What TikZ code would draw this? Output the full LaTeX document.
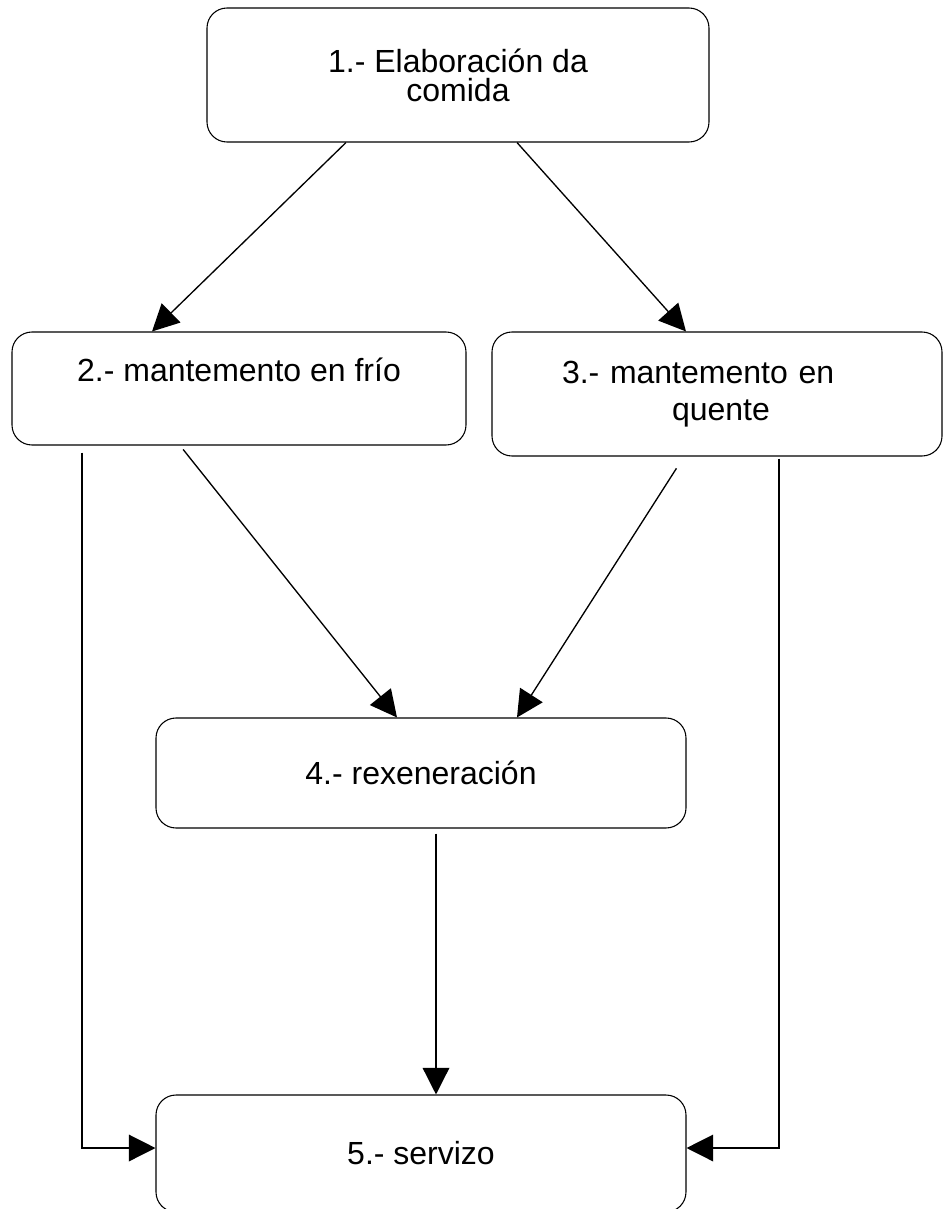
\documentclass[tikz,border=0pt]{standalone}
\usepackage{fontspec}
\setmainfont{Liberation Sans}
\usepackage{tikz}
\usetikzlibrary{arrows.meta}

\begin{document}
\begin{tikzpicture}[x=0.75pt,y=0.75pt,yscale=-1,xscale=1,
    rrect/.style={draw, line width=0.8pt, rounded corners=15pt, inner sep=0pt, align=center, font=\fontsize{24}{27.75}\selectfont},
    conn/.style={line width=1pt, -{Triangle[length=20pt,width=20pt]}}]
    \useasboundingbox (0,0) rectangle (943,1209);

    %Shape: Rounded Rect [id:b1]
    \node[rrect, minimum width=376.5pt, minimum height=100.5pt, font=\fontsize{24}{21.75}\selectfont] (b1) at (458,75) {1.- Elaboración da\\comida};
    %Shape: Rounded Rect [id:b2]
    \node[rrect, minimum width=340.5pt, minimum height=84.75pt] (b2) at (239,388.5) {2.- mantemento en frío\\\mbox{}};
    %Shape: Rounded Rect [id:b3]
    \node[rrect, minimum width=337.5pt, text width=337.5pt, minimum height=93pt, align=left] (b3) at (717,394) {\hspace*{52.5pt}3.- mantemento en\\\hspace*{135pt}quente};
    %Shape: Rounded Rect [id:b4]
    \node[rrect, minimum width=397.5pt, minimum height=82.5pt] (b4) at (421,773) {4.- rexeneración};
    %Shape: Rounded Rect [id:b5]
    \node[rrect, minimum width=397.5pt, minimum height=87.75pt] (b5) at (421,1153.5) {5.- servizo};

    %Straight Lines [id:a12]
    \draw[conn] (b1.south -| 346,0) -- (b2.north -| 152,0);
    %Straight Lines [id:a13]
    \draw[conn] (b1.south -| 517,0) -- (b3.north -| 686,0);
    %Straight Lines [id:a24]
    \draw[conn, shorten <=3.75pt] (b2.south -| 180,0) -- (b4.north -| 397,0);
    %Straight Lines [id:a34]
    \draw[conn, shorten <=10.5pt] (b3.south -| 684,0) -- (b4.north -| 517,0);
    %Straight Lines [id:a45]
    \draw[conn, shorten <=3.75pt] (b4.south -| 436,0) -- (b5.north -| 436,0);
    %Shape: Elbow [id:a25]
    \draw[conn, shorten <=5.25pt] (b2.south -| 82,0) |- (b5.west |- 0,1148);
    %Shape: Elbow [id:a35]
    \draw[conn, shorten <=1.5pt] (b3.south -| 779,0) |- (b5.east |- 0,1148);

\end{tikzpicture}
\end{document}
